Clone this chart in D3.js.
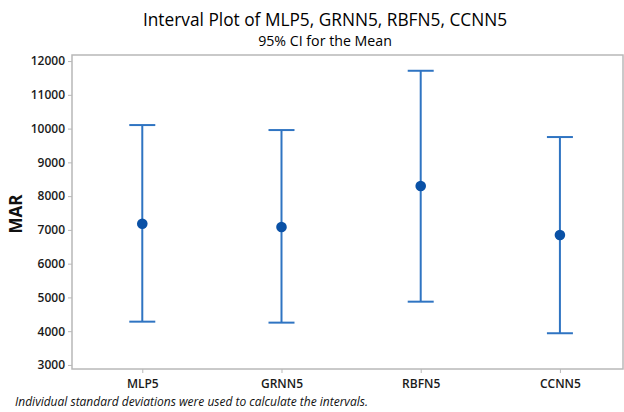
<!DOCTYPE html>
<html>
<head>
<meta charset="utf-8">
<script src="https://cdn.jsdelivr.net/npm/d3@7"></script>
<style>
  html, body { margin: 0; padding: 0; background: #fff; }
  svg { display: block; }
  text { font-family: "Open Sans", "Noto Sans", sans-serif; }
</style>
</head>
<body>
<svg id="chart" width="624" height="412"></svg>
<script>
const categories = ["MLP5", "GRNN5", "RBFN5", "CCNN5"];
const means = [7183, 7086, 8300, 6849];
const lower = [4282, 4253, 4874, 3939];
const upper = [10105, 9957, 11713, 9750];
const yTicks = [3000, 4000, 5000, 6000, 7000, 8000, 9000, 10000, 11000, 12000];

const title = "Interval Plot of MLP5, GRNN5, RBFN5, CCNN5";
const subtitle = "95% CI for the Mean";
const yLabel = "MAR";
const footnote = "Individual standard deviations were used to calculate the intervals.";

const W = 624, H = 412;
const plot = { left: 72, right: 623, top: 55, bottom: 369 };

const svg = d3.select("#chart");

const y = d3.scaleLinear()
  .domain([2880, 12180])
  .range([plot.bottom, plot.top]);

const x = d3.scalePoint()
  .domain(categories)
  .range([plot.left, plot.right])
  .padding(0.479)
  .align(0.527);

const lineColor = "#2f74c2";
const dotColor = "#0a51a6";
const frameColor = "#b8b8b8";

// frame
svg.append("rect")
  .attr("x", plot.left)
  .attr("y", plot.top)
  .attr("width", plot.right - plot.left)
  .attr("height", plot.bottom - plot.top)
  .attr("fill", "none")
  .attr("stroke", frameColor)
  .attr("stroke-width", 1.5);

// y axis
const yAxis = svg.append("g")
  .attr("transform", `translate(${plot.left},0)`)
  .call(d3.axisLeft(y).tickValues(yTicks).tickSize(4).tickPadding(3).tickFormat(d3.format("d")));
yAxis.select(".domain").remove();
yAxis.selectAll(".tick line").attr("stroke", frameColor);
yAxis.selectAll(".tick text")
  .attr("fill", "#1a1a1a")
  .style("font-size", "12px")
  .style("font-weight", "600");

// x axis
const xAxis = svg.append("g")
  .attr("transform", `translate(0,${plot.bottom})`)
  .call(d3.axisBottom(x).tickSize(4).tickPadding(6));
xAxis.select(".domain").remove();
xAxis.selectAll(".tick line").attr("stroke", frameColor);
xAxis.selectAll(".tick text")
  .attr("fill", "#1a1a1a")
  .style("font-size", "12px")
  .style("font-weight", "600");

// intervals
const data = categories.map((c, i) => ({ c, m: means[i], lo: lower[i], hi: upper[i] }));
const capHalf = 13;
const g = svg.append("g");
data.forEach(d => {
  const cx = x(d.c);
  g.append("line")
    .attr("x1", cx).attr("x2", cx)
    .attr("y1", y(d.lo)).attr("y2", y(d.hi))
    .attr("stroke", lineColor).attr("stroke-width", 2);
  [d.lo, d.hi].forEach(v => {
    g.append("line")
      .attr("x1", cx - capHalf).attr("x2", cx + capHalf)
      .attr("y1", y(v)).attr("y2", y(v))
      .attr("stroke", lineColor).attr("stroke-width", 2);
  });
  g.append("circle")
    .attr("cx", cx).attr("cy", y(d.m))
    .attr("r", 5.3)
    .attr("fill", dotColor);
});

// titles
svg.append("text")
  .attr("x", 325).attr("y", 26)
  .attr("text-anchor", "middle")
  .attr("fill", "#000")
  .style("font-size", "17.3px")
  .style("font-weight", "500")
  .text(title);
svg.append("text")
  .attr("x", 325).attr("y", 46)
  .attr("text-anchor", "middle")
  .attr("fill", "#000")
  .style("font-size", "14.2px")
  .text(subtitle);

// y label
svg.append("text")
  .attr("transform", `translate(22,${(plot.top + plot.bottom) / 2 + 2}) rotate(-90)`)
  .attr("text-anchor", "middle")
  .attr("fill", "#111")
  .style("font-size", "17px")
  .style("font-weight", "700")
  .text(yLabel);

// footnote
svg.append("text")
  .attr("x", 15).attr("y", 406)
  .attr("fill", "#111")
  .style("font-size", "12px")
  .style("font-style", "italic")
  .text(footnote);
</script>
</body>
</html>
